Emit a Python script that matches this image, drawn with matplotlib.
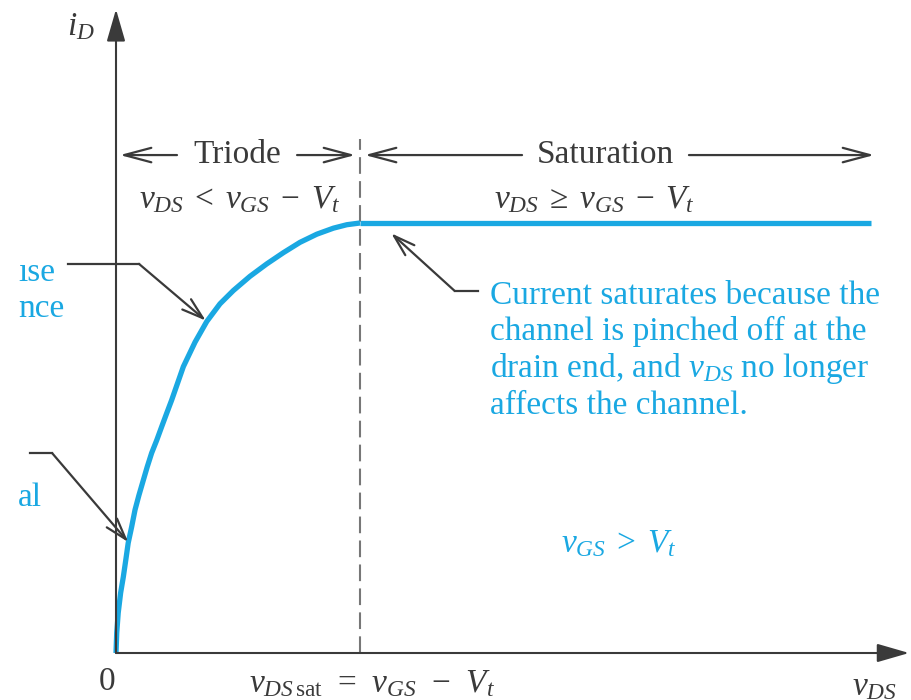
import numpy as np
import matplotlib
matplotlib.use("Agg")
import matplotlib.pyplot as plt

# ---------------------------------------------------------------
# iD - vDS characteristic of an n-channel MOSFET (vGS > Vt)
# vDS in units of vDSsat, iD in units of the saturation current
# ---------------------------------------------------------------
vds_triode = [0.0, 0.003, 0.009, 0.019, 0.030, 0.040, 0.050, 0.064, 0.078,
              0.094, 0.112, 0.128, 0.146, 0.167, 0.187, 0.208, 0.228, 0.276,
              0.324, 0.372, 0.426, 0.481, 0.549, 0.618, 0.686, 0.754, 0.823,
              0.891, 0.946, 1.0]
id_triode = [0.0, 0.047, 0.093, 0.140, 0.177, 0.216, 0.256, 0.293, 0.333,
             0.367, 0.402, 0.433, 0.465, 0.495, 0.526, 0.558, 0.588, 0.666,
             0.723, 0.771, 0.812, 0.843, 0.876, 0.905, 0.931, 0.955, 0.974,
             0.988, 0.996, 1.0]
vds_sat = [1.0, 3.094]
id_sat = [1.0, 1.0]
vds_sat_edge = 1.0

CYAN = "#1aa8e2"
INK = "#3a3a3a"

plt.rcParams["font.family"] = ["Liberation Serif", "DejaVu Serif"]
plt.rcParams["mathtext.fontset"] = "custom"
plt.rcParams["mathtext.rm"] = "Liberation Serif"
plt.rcParams["mathtext.it"] = "Liberation Serif:italic"

fig = plt.figure(figsize=(9.11, 7.0), dpi=100, facecolor="white")
ax = fig.add_axes([0, 0, 1, 1])
ax.set_xlim(-0.4754, 3.258)
ax.set_ylim(-0.1093, 1.5186)
ax.axis("off")

FS = 24

# --- axes with filled arrowheads ---
axis_head = dict(arrowstyle="-|>,head_length=0.9,head_width=0.26",
                 color=INK, lw=1.5, mutation_scale=22, shrinkA=0, shrinkB=0)
ax.annotate("", xy=(0, 1.497), xytext=(0, 0), arrowprops=axis_head)
ax.annotate("", xy=(3.25, 0), xytext=(0, 0), arrowprops=axis_head)
ax.text(-0.143, 1.457, r"$i_D$", fontsize=FS, color=INK, ha="center", va="center")
ax.text(-0.035, -0.066, "0", fontsize=FS, color=INK, ha="center", va="center")
ax.text(3.11, -0.078, r"$v_{DS}$", fontsize=FS, color=INK, ha="center", va="center")
ax.text(1.05, -0.072, r"$v_{DS\,\mathrm{sat}}\;\,=\;\,v_{GS}\;\,-\;\,V_t$",
        fontsize=FS, color=INK, ha="center", va="center")

# boundary between triode and saturation
ax.plot([vds_sat_edge, vds_sat_edge], [0, 1.195], color="#777777", lw=1.5,
        linestyle=(0, (8, 3.5)))

# the characteristic curve
ax.plot(vds_triode, id_triode, color=CYAN, lw=3.8, solid_capstyle="butt",
        solid_joinstyle="round")
ax.plot(vds_sat, id_sat, color=CYAN, lw=3.8, solid_capstyle="butt")

# --- region labels with double arrows ---
open_head = dict(arrowstyle="->,head_length=0.75,head_width=0.2", color=INK,
                 lw=1.6, mutation_scale=26, shrinkA=0, shrinkB=0)
pointer_head = dict(arrowstyle="->,head_length=0.7,head_width=0.22", color=INK,
                    lw=1.6, mutation_scale=22, shrinkA=0, shrinkB=0)
row = 1.158
for x0, x1 in [(0.250, 0.016), (0.742, 0.980), (1.664, 1.020), (2.348, 3.107)]:
    ax.annotate("", xy=(x1, row), xytext=(x0, row), arrowprops=open_head)
ax.text(0.498, row, "Triode", fontsize=FS, color=INK, ha="center", va="center")
ax.text(2.004, row, "Saturation", fontsize=FS, color=INK, ha="center", va="center")

row2 = 1.054
ax.text(0.505, row2, r"$v_{DS}\;<\;v_{GS}\;-\;V_t$", fontsize=FS, color=INK,
        ha="center", va="center")
ax.text(1.96, row2, r"$v_{DS}\;\geq\;v_{GS}\;-\;V_t$", fontsize=FS, color=INK,
        ha="center", va="center")

# --- saturation callout ---
ax.plot([1.482, 1.388], [0.842, 0.842], color=INK, lw=1.6)
ax.annotate("", xy=(1.128, 0.976), xytext=(1.388, 0.842), arrowprops=pointer_head)
ax.text(1.533, 0.866,
        "Current saturates because the\n"
        "channel is pinched off at the\n"
        r"drain end, and $v_{DS}$ no longer" "\n"
        "affects the channel.",
        fontsize=FS, color=CYAN, ha="left", va="top", linespacing=1.18)

ax.text(2.06, 0.255, r"$v_{GS}\;>\;V_t$", fontsize=FS, color=CYAN,
        ha="center", va="center")

# --- triode callouts, labels trimmed at the left margin ---
ax.plot([-0.197, 0.094], [0.905, 0.905], color=INK, lw=1.6)
ax.annotate("", xy=(0.368, 0.773), xytext=(0.094, 0.905), arrowprops=pointer_head)
ax.text(-0.402, 0.885, "\u0131se", fontsize=FS, color=CYAN, ha="left", va="center")
ax.text(-0.402, 0.801, "nce", fontsize=FS, color=CYAN, ha="left", va="center")

ax.plot([-0.352, -0.262], [0.465, 0.465], color=INK, lw=1.6)
ax.annotate("", xy=(0.050, 0.258), xytext=(-0.262, 0.465), arrowprops=pointer_head)
ax.text(-0.402, 0.360, "al", fontsize=FS, color=CYAN, ha="left", va="center")

fig.savefig("out.png", dpi=100, facecolor="white")
